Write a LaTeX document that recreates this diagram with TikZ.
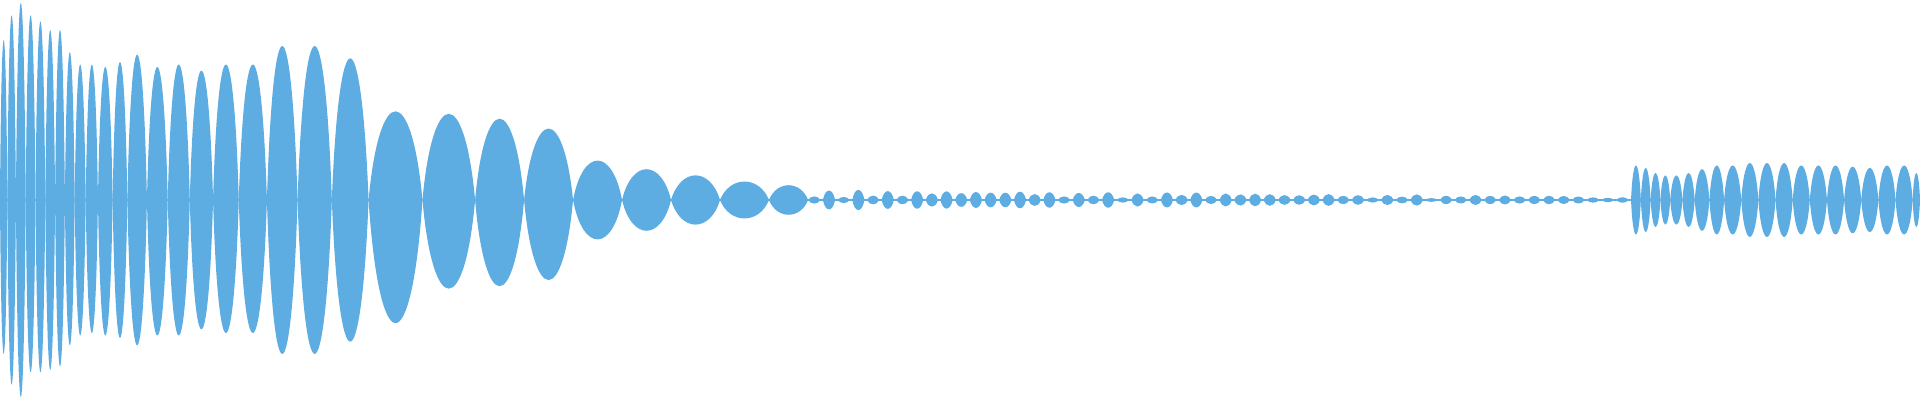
\documentclass[tikz,border=0pt]{standalone}
\begin{document}
\begin{tikzpicture}[x=19.2cm/1568,y=4cm/324,wave/.style={fill={rgb,255:red,93;green,173;blue,226}}]
\useasboundingbox (0,0) rectangle (1568,324);
\def\c{162}
\fill[wave] (0,\c-0.6) rectangle (1568,\c+0.6);
\foreach \a/\b/\t/\d in {0/6/130/125,6/13/150/150,13/21/160/160,21/29/150/140,29/37/145/140,37/45/138/138,45/53/138/135,53/61/120/118,61/70/110/110,70/80/110/108,80/92/108/110,92/104/112/112,104/120/118/118,120/137/108/110,137/155/110/110,155/174/105/105,174/195/110/108,195/218/110/108,218/243/125/125,243/271/125/125,271/301/115/115,301/345/72/100,345/388/70/72,388/428/66/70,428/468/58/65,468/508/32/32,508/548/25/25,548/588/20/20,588/628/15/15,628/660/12/12}{
  \fill[wave] (\a,\c) .. controls ({\a+0.2*(\b-\a)},{\c+1.33*\t}) and ({\b-0.2*(\b-\a)},{\c+1.33*\t}) .. (\b,\c)
     .. controls ({\b-0.2*(\b-\a)},{\c-1.33*\d}) and ({\a+0.2*(\b-\a)},{\c-1.33*\d}) .. (\a,\c) -- cycle;
}
\foreach \a in {660,672,...,1320}{
  \pgfmathsetmacro\t{1.5+6*abs(sin(mod(\a,97)*37))*(1330-\a)/670+1.5*abs(cos(mod(\a,89)*13))}
  \fill[wave] (\a,\c) .. controls ({\a+2},{\c+1.33*\t}) and ({\a+8},{\c+1.33*\t}) .. (\a+10,\c)
     .. controls ({\a+8},{\c-1.33*\t}) and ({\a+2},{\c-1.33*\t}) .. (\a,\c) -- cycle;
}
\foreach \a/\b/\t in {1332/1340/28,1340/1348/26,1348/1356/22,1356/1364/20,1364/1374/20,1374/1384/22,1384/1396/25,1396/1408/28,1408/1422/28,1422/1436/30,1436/1450/30,1450/1464/30,1464/1478/28,1478/1492/28,1492/1506/28,1506/1520/27,1520/1534/26,1534/1548/28,1548/1562/28,1562/1568/22}{
  \fill[wave] (\a,\c) .. controls ({\a+0.2*(\b-\a)},{\c+1.33*\t}) and ({\b-0.2*(\b-\a)},{\c+1.33*\t}) .. (\b,\c)
     .. controls ({\b-0.2*(\b-\a)},{\c-1.33*\t}) and ({\a+0.2*(\b-\a)},{\c-1.33*\t}) .. (\a,\c) -- cycle;
}
\end{tikzpicture}
\end{document}
